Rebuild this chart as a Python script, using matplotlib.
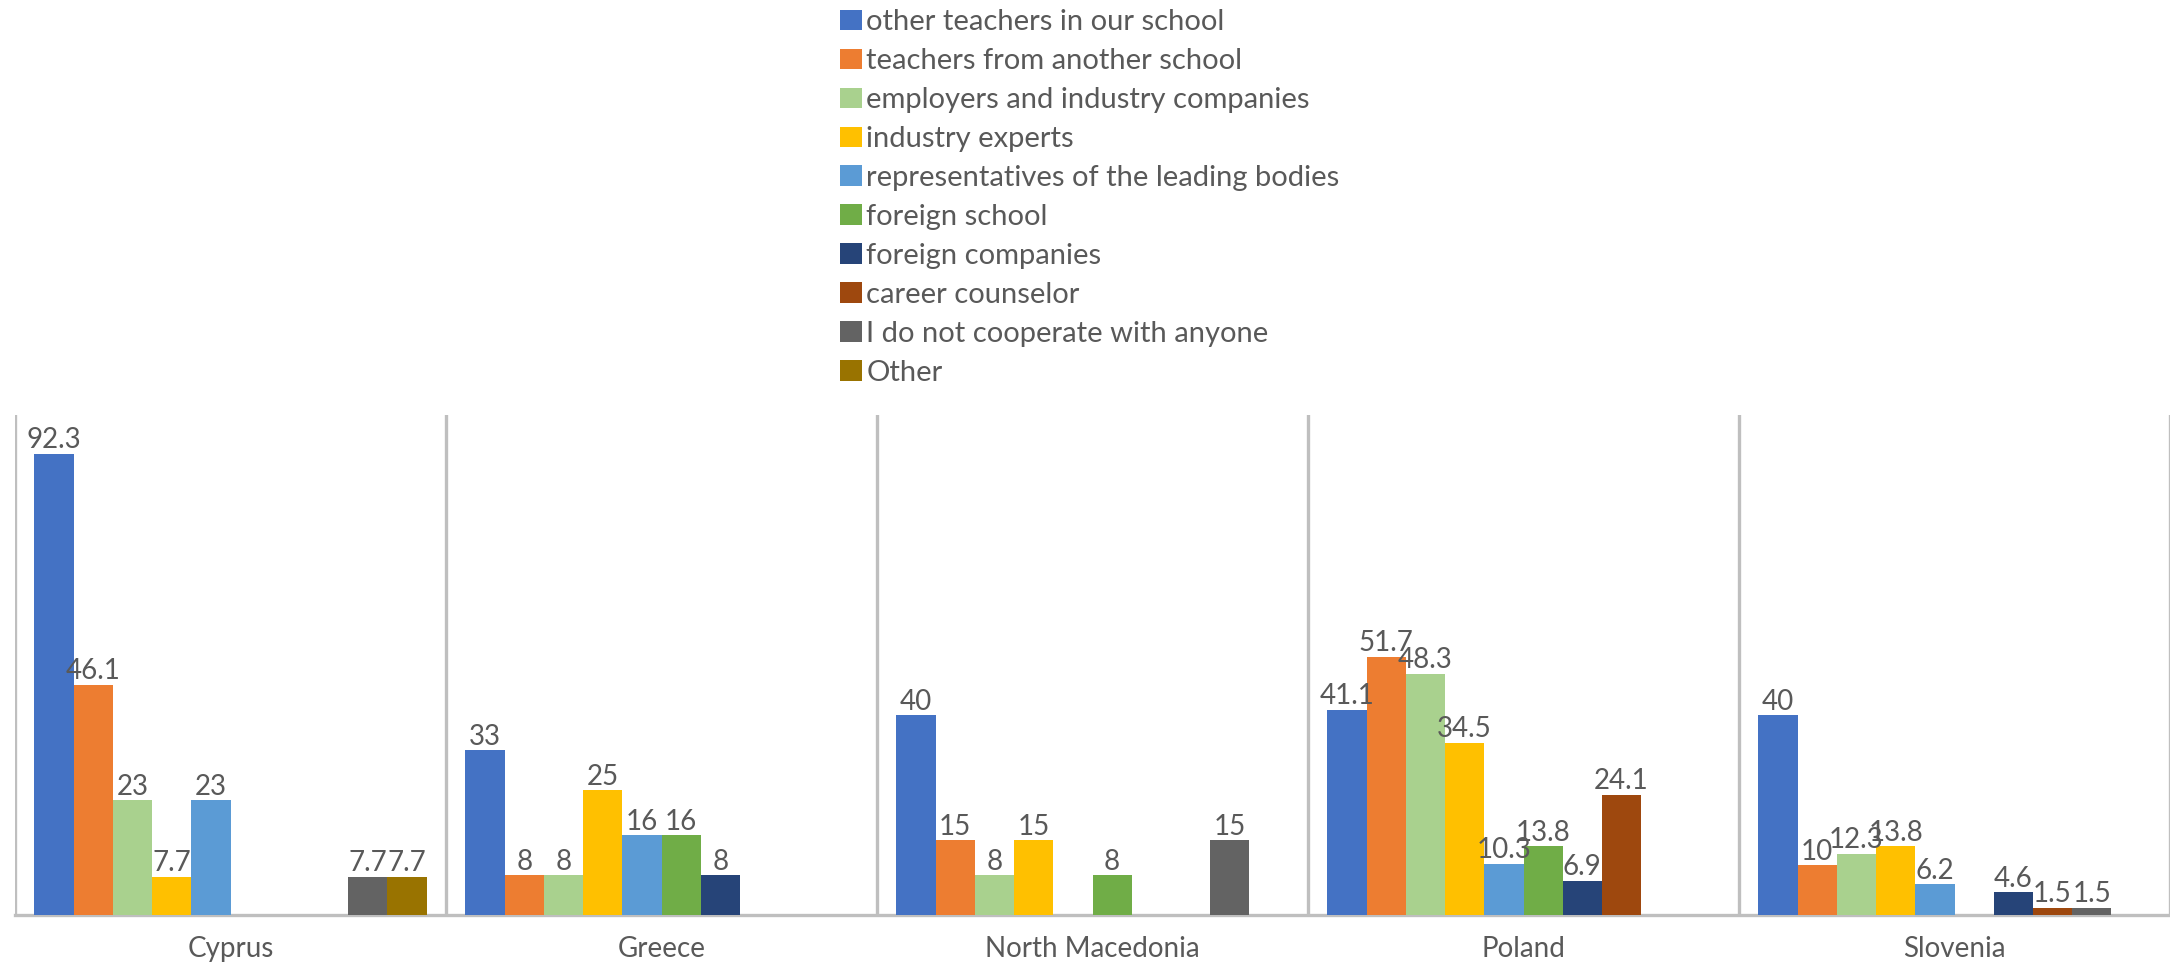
import matplotlib
matplotlib.use("Agg")
import matplotlib.pyplot as plt
import numpy as np

plt.rcParams['font.family'] = ['Lato', 'DejaVu Sans']

countries = ["Cyprus", "Greece", "North Macedonia", "Poland", "Slovenia"]
series_names = [
    "other teachers in our school",
    "teachers from another school",
    "employers and industry companies",
    "industry experts",
    "representatives of the leading bodies",
    "foreign school",
    "foreign companies",
    "career counselor",
    "I do not cooperate with anyone",
    "Other",
]
nan = np.nan
other_teachers = [92.3, 33, 40, 41.1, 40]
teachers_another = [46.1, 8, 15, 51.7, 10]
employers = [23, 8, 8, 48.3, 12.3]
industry_experts = [7.7, 25, 15, 34.5, 13.8]
representatives = [23, 16, nan, 10.3, 6.2]
foreign_school = [nan, 16, 8, 13.8, nan]
foreign_companies = [nan, 8, nan, 6.9, 4.6]
career_counselor = [nan, nan, nan, 24.1, 1.5]
no_cooperation = [7.7, nan, 15, nan, 1.5]
other = [7.7, nan, nan, nan, nan]

series_values = [other_teachers, teachers_another, employers, industry_experts,
                 representatives, foreign_school, foreign_companies,
                 career_counselor, no_cooperation, other]
colors = ["#4472C4", "#ED7D31", "#A9D18E", "#FFC000", "#5B9BD5",
          "#70AD47", "#264478", "#9E480E", "#636363", "#997300"]

W, H = 2170, 963
fig = plt.figure(figsize=(W / 100, H / 100), dpi=100)
ax = fig.add_axes([15 / W, 1 - 915 / H, 1 - 15 / W, (915 - 415) / H])

label_color = "#595959"
grid_color = "#BFBFBF"
n = len(series_names)
bw = 0.091
x = np.arange(len(countries))
handles = []
for j, (name, vals, c) in enumerate(zip(series_names, series_values, colors)):
    pos = x + (j - (n - 1) / 2) * bw
    v = np.array(vals, dtype=float)
    b = ax.bar(pos, np.nan_to_num(v), width=bw, color=c, label=name, zorder=3)
    handles.append(b)
    for p, val in zip(pos, v):
        if not np.isnan(val):
            ax.annotate(f"{val:g}", (p, val), xytext=(0, 0.3),
                        textcoords="offset points", ha="center", va="bottom",
                        fontsize=20, color=label_color, zorder=4)

ax.set_xlim(-0.5, len(countries) - 0.5)
ax.set_ylim(0, 100)
for b in np.arange(-0.5, len(countries) + 0.5, 1.0):
    ax.axvline(b, color=grid_color, lw=2.4, zorder=1)
for s in ["top", "right", "left"]:
    ax.spines[s].set_visible(False)
ax.spines["bottom"].set_color(grid_color)
ax.spines["bottom"].set_linewidth(2.4)
ax.set_yticks([])
ax.set_xticks(x)
ax.set_xticklabels(countries, fontsize=20, color=label_color)
ax.tick_params(axis="x", length=0, pad=15)

fig.legend(handles=handles, labels=series_names, loc="upper left",
           bbox_to_anchor=(840 / W, 1 - 9 / H), frameon=False,
           fontsize=21, handlelength=0.75, handleheight=0.7,
           handletextpad=0.15, labelspacing=0.445, borderpad=0,
           borderaxespad=0, labelcolor=label_color)

fig.savefig("out.png", dpi=100, facecolor="white")
